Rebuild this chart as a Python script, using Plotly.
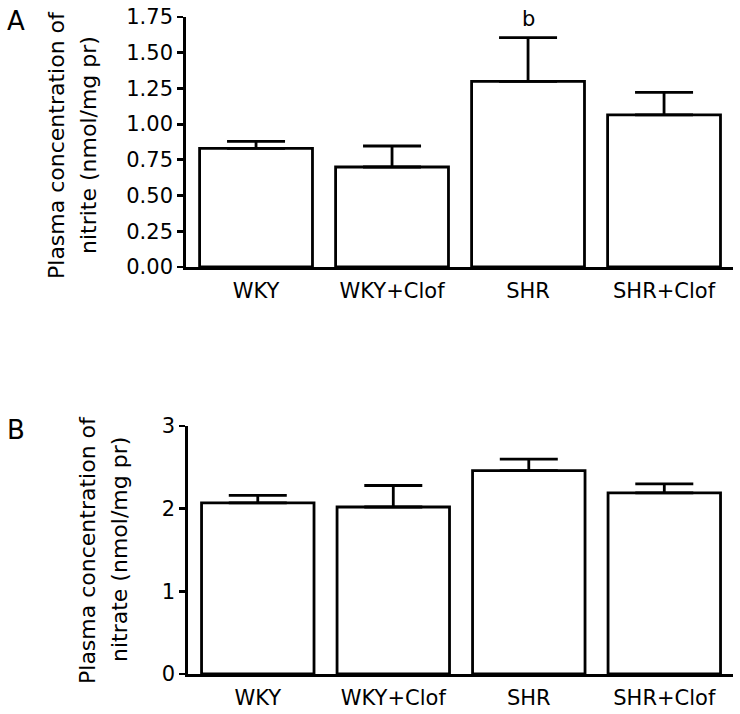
import plotly.graph_objects as go

groups = ["WKY", "WKY+Clof", "SHR", "SHR+Clof"]
nitrite_mean = [0.83, 0.70, 1.30, 1.065]
nitrite_sem = [0.05, 0.147, 0.305, 0.157]
nitrate_mean = [2.07, 2.02, 2.46, 2.19]
nitrate_sem = [0.09, 0.26, 0.14, 0.11]
nitrite_ticks = [0, 0.25, 0.5, 0.75, 1.0, 1.25, 1.5, 1.75]
nitrite_ticktext = ["0.00", "0.25", "0.50", "0.75", "1.00", "1.25", "1.50", "1.75"]
nitrate_ticks = [0, 1, 2, 3]
sig_label = "b"

W, H = 740, 714
FONT = "DejaVu Sans"

def px_x(x):
    return x / W

def px_y(y):
    return 1 - y / H

fig = go.Figure()

def bar_trace(y, err, xa, ya):
    return go.Bar(
        x=groups, y=y, xaxis=xa, yaxis=ya, width=0.83,
        marker=dict(color="white", line=dict(color="black", width=2.8)),
        error_y=dict(type="data", symmetric=False, array=err,
                     arrayminus=[0] * len(err), color="black",
                     thickness=2.8, width=29),
        showlegend=False,
    )

fig.add_trace(bar_trace(nitrite_mean, nitrite_sem, "x", "y"))
fig.add_trace(bar_trace(nitrate_mean, nitrate_sem, "x2", "y2"))

axis_common = dict(showgrid=False, zeroline=False, showline=True,
                   linecolor="black", linewidth=2.8, automargin=False,
                   ticklabeloverflow="allow")

xr = [-0.515, 3.507]
TF = 21
fig.update_layout(
    width=W, height=H,
    margin=dict(l=0, r=0, t=0, b=0),
    paper_bgcolor="white", plot_bgcolor="white",
    font=dict(family=FONT, color="black", size=TF),
    bargap=0.17,
    xaxis=dict(domain=[px_x(186), px_x(733)], anchor="y", range=xr,
               ticks="", ticklabelstandoff=3,
               tickfont=dict(size=TF, family=FONT), **axis_common),
    yaxis=dict(domain=[px_y(267), px_y(17)], anchor="x", range=[0, 1.75],
               tickvals=nitrite_ticks, ticktext=nitrite_ticktext,
               ticks="outside", ticklen=6, tickwidth=2.8, tickcolor="black",
               tickfont=dict(size=TF, family=FONT), **axis_common),
    xaxis2=dict(domain=[px_x(188), px_x(733)], anchor="y2", range=xr,
                ticks="", ticklabelstandoff=3,
                tickfont=dict(size=TF, family=FONT), **axis_common),
    yaxis2=dict(domain=[px_y(674), px_y(426)], anchor="x2", range=[0, 3],
                tickvals=nitrate_ticks,
                ticks="outside", ticklen=6, tickwidth=2.8, tickcolor="black",
                tickfont=dict(size=TF, family=FONT), **axis_common),
)

ann = []
# panel letters
ann.append(dict(text="A", x=px_x(16), y=px_y(21), xref="paper", yref="paper",
                showarrow=False, font=dict(size=26, family=FONT),
                xanchor="center", yanchor="middle"))
ann.append(dict(text="B", x=px_x(16), y=px_y(430), xref="paper", yref="paper",
                showarrow=False, font=dict(size=26, family=FONT),
                xanchor="center", yanchor="middle"))
# y axis titles (two lines each)
for (t, x, y) in [("Plasma concentration of", 57, 145),
                  ("nitrite (nmol/mg pr)", 89, 145),
                  ("Plasma concentration of", 87, 550),
                  ("nitrate (nmol/mg pr)", 119, 550)]:
    ann.append(dict(text=t, x=px_x(x), y=px_y(y), xref="paper", yref="paper",
                    showarrow=False, textangle=-90,
                    font=dict(size=22, family=FONT),
                    xanchor="center", yanchor="middle"))
# significance mark
ann.append(dict(text=sig_label, x=groups[2], y=nitrite_mean[2] + nitrite_sem[2],
                xref="x", yref="y", showarrow=False, yanchor="bottom",
                yshift=5, font=dict(size=21, family=FONT)))
fig.update_layout(annotations=ann)

fig.write_html("out.html",
               config={"displayModeBar": False, "staticPlot": True},
               post_script="document.body.style.margin='0';"
                           "document.body.style.overflow='hidden';")
